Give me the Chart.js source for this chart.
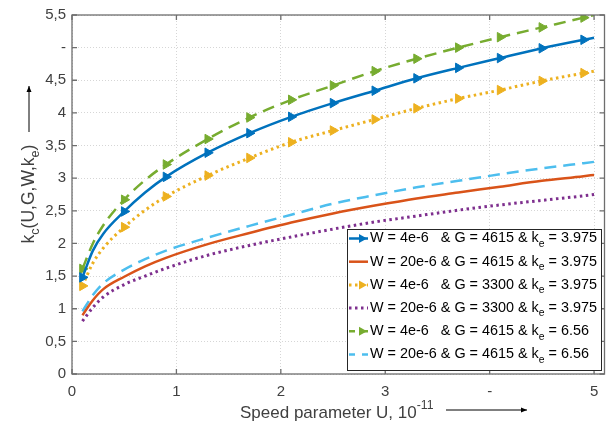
<!DOCTYPE html>
<html>
<head>
<meta charset="utf-8">
<script src="https://cdn.jsdelivr.net/npm/chart.js@4/dist/chart.umd.min.js"></script>
<style>
  body { margin: 0; background: #fff; }
  canvas { display: block; }
</style>
</head>
<body>
<canvas id="kcchart" width="611" height="430"></canvas>
<script>
// speed parameter U (x 10^-11)
const uVals = [0.1, 0.2, 0.3, 0.5, 0.7, 0.9, 1.3, 1.7, 2.1, 2.5, 2.9, 3.3, 3.7, 4.1, 4.5, 4.9, 5.0];
const markerU = [0.1, 0.5, 0.9, 1.3, 1.7, 2.1, 2.5, 2.9, 3.3, 3.7, 4.1, 4.5, 4.9];

const kcBlue   = [1.48, 1.89, 2.15, 2.49, 2.78, 3.02, 3.39, 3.69, 3.94, 4.15, 4.34, 4.53, 4.69, 4.84, 4.99, 5.12, 5.15];
const kcRed    = [0.90, 1.13, 1.30, 1.49, 1.65, 1.78, 1.99, 2.16, 2.32, 2.46, 2.58, 2.69, 2.78, 2.87, 2.96, 3.03, 3.05];
const kcOrange = [1.35, 1.70, 1.93, 2.25, 2.51, 2.72, 3.04, 3.31, 3.55, 3.73, 3.90, 4.07, 4.22, 4.35, 4.49, 4.61, 4.64];
const kcPurple = [0.81, 1.02, 1.18, 1.37, 1.50, 1.62, 1.82, 1.97, 2.10, 2.22, 2.33, 2.42, 2.51, 2.59, 2.66, 2.73, 2.75];
const kcGreen  = [1.61, 2.00, 2.28, 2.67, 2.97, 3.21, 3.60, 3.93, 4.20, 4.42, 4.64, 4.83, 5.00, 5.16, 5.31, 5.46, 5.50];
const kcCyan   = [0.96, 1.21, 1.39, 1.60, 1.76, 1.89, 2.09, 2.27, 2.44, 2.61, 2.74, 2.86, 2.96, 3.06, 3.15, 3.23, 3.25];

const legendLabels = [
    "W = 4e-6|& G = 4615 & k_e = 3.975",
    "W = 20e-6|& G = 4615 & k_e = 3.975",
    "W = 4e-6|& G = 3300 & k_e = 3.975",
    "W = 20e-6|& G = 3300 & k_e = 3.975",
    "W = 4e-6|& G = 4615 & k_e = 6.56",
    "W = 20e-6|& G = 4615 & k_e = 6.56"
];

const xTickVals = [0, 1, 2, 3, 4, 5];
const xTickText = ["0", "1", "2", "3", "-", "5"];
const yTickVals = [0, 0.5, 1, 1.5, 2, 2.5, 3, 3.5, 4, 4.5, 5, 5.5];
const yTickText = ["0", "0,5", "1", "1,5", "2", "2,5", "3", "3,5", "4", "4,5", "-", "5,5"];

const FONT = "'Liberation Sans', Arial, Helvetica, sans-serif";
const AXIS_COLOR = "#6e6e6e";
const TEXT_COLOR = "#404040";

function pts(vals) {
    return uVals.map((u, i) => ({ x: u, y: vals[i] }));
}

function markerRadius(ctx) {
    const u = uVals[ctx.dataIndex];
    return markerU.includes(u) ? 5.5 : 0;
}

function series(label, vals, color, dash, width, marker) {
    return {
        label: label,
        data: pts(vals),
        borderColor: color,
        backgroundColor: color,
        borderWidth: width,
        borderDash: dash,
        cubicInterpolationMode: 'monotone',
        pointStyle: 'triangle',
        rotation: 90,
        pointRadius: marker ? markerRadius : 0,
        pointBorderWidth: 1,
        fill: false
    };
}

const datasets = [
    series(legendLabels[0], kcBlue, '#0072BD', [], 2.5, true),
    series(legendLabels[1], kcRed, '#D95319', [], 2.5, false),
    series(legendLabels[2], kcOrange, '#EDB120', [2.5, 3.5], 3, true),
    series(legendLabels[3], kcPurple, '#7E2F8E', [2.5, 3.5], 3, false),
    series(legendLabels[4], kcGreen, '#77AC30', [12, 7], 2.5, true),
    series(legendLabels[5], kcCyan, '#4DBEEE', [12, 7], 2.5, false)
];

// text pieces with sub/superscripts: mode 0 normal, 1 sub, 2 sup
function drawParts(ctx, parts, x, y, size) {
    let cx = x;
    parts.forEach(p => {
        const s = p[1] ? size * 0.72 : size;
        ctx.font = s + "px " + FONT;
        let dy = 0;
        if (p[1] === 1) dy = size * 0.38;
        if (p[1] === 2) dy = -size * 0.42;
        ctx.fillText(p[0], cx, y + dy);
        cx += ctx.measureText(p[0]).width;
    });
    return cx;
}

function partsWidth(ctx, parts, size) {
    let w = 0;
    parts.forEach(p => {
        const s = p[1] ? size * 0.72 : size;
        ctx.font = s + "px " + FONT;
        w += ctx.measureText(p[0]).width;
    });
    return w;
}

function labelParts(txt) {
    const bits = txt.split("_e");
    return [[bits[0], 0], ["e", 1], [bits[1], 0]];
}

function arrow(ctx, x1, y1, x2, y2) {
    ctx.beginPath();
    ctx.moveTo(x1, y1);
    ctx.lineTo(x2, y2);
    ctx.stroke();
    const a = Math.atan2(y2 - y1, x2 - x1);
    ctx.beginPath();
    ctx.moveTo(x2, y2);
    ctx.lineTo(x2 - 6 * Math.cos(a) + 2.5 * Math.sin(a), y2 - 6 * Math.sin(a) - 2.5 * Math.cos(a));
    ctx.lineTo(x2 - 6 * Math.cos(a) - 2.5 * Math.sin(a), y2 - 6 * Math.sin(a) + 2.5 * Math.cos(a));
    ctx.closePath();
    ctx.fill();
}

const framePlugin = {
    id: 'frame',
    afterDatasetsDraw(chart) {
        const ctx = chart.ctx;
        const a = chart.chartArea;
        const xs = chart.scales.x;
        const ys = chart.scales.y;
        ctx.save();
        // box
        ctx.strokeStyle = AXIS_COLOR;
        ctx.lineWidth = 1.3;
        ctx.setLineDash([]);
        ctx.strokeRect(a.left, a.top, a.right - a.left, a.bottom - a.top);
        // inward ticks
        ctx.beginPath();
        xTickVals.forEach(v => {
            const px = xs.getPixelForValue(v);
            ctx.moveTo(px, a.bottom); ctx.lineTo(px, a.bottom - 5);
            ctx.moveTo(px, a.top); ctx.lineTo(px, a.top + 5);
        });
        yTickVals.forEach(v => {
            const py = ys.getPixelForValue(v);
            ctx.moveTo(a.left, py); ctx.lineTo(a.left + 5, py);
            ctx.moveTo(a.right, py); ctx.lineTo(a.right - 5, py);
        });
        ctx.stroke();

        // legend
        const lx = 347, ly = 229, lw = 254, lh = 141, rowH = 23.2, fs = 14.4;
        ctx.fillStyle = '#fff';
        ctx.fillRect(lx, ly, lw, lh);
        ctx.strokeStyle = '#262626';
        ctx.lineWidth = 1;
        ctx.strokeRect(lx + 0.5, ly + 0.5, lw, lh);
        ctx.font = fs + "px " + FONT;
        const ampX = lx + 23 + ctx.measureText("W = 20e-6 ").width;
        chart.data.datasets.forEach((ds, i) => {
            const cy = ly + 9.5 + rowH * i;
            ctx.save();
            ctx.strokeStyle = ds.borderColor;
            ctx.lineWidth = ds.borderWidth;
            ctx.setLineDash(ds.borderDash);
            ctx.lineDashOffset = ds.borderDash.length ? 6 : 0;
            ctx.beginPath();
            ctx.moveTo(lx + 2, cy);
            ctx.lineTo(lx + 21, cy);
            ctx.stroke();
            if (ds.pointRadius !== 0) {
                ctx.setLineDash([]);
                ctx.fillStyle = ds.borderColor;
                ctx.beginPath();
                ctx.moveTo(lx + 20, cy);
                ctx.lineTo(lx + 12, cy - 4.5);
                ctx.lineTo(lx + 12, cy + 4.5);
                ctx.closePath();
                ctx.fill();
            }
            ctx.restore();
            const halves = ds.label.split("|");
            ctx.fillStyle = '#000';
            ctx.textBaseline = 'middle';
            ctx.textAlign = 'left';
            drawParts(ctx, [[halves[0], 0]], lx + 23, cy, fs);
            drawParts(ctx, labelParts(halves[1]), ampX, cy, fs);
        });
        ctx.restore();
    },
    afterDraw(chart) {
        const ctx = chart.ctx;
        ctx.save();
        ctx.fillStyle = TEXT_COLOR;
        ctx.strokeStyle = '#000';
        ctx.textBaseline = 'middle';
        ctx.textAlign = 'left';
        // x title
        const xParts = [["Speed parameter U, 10", 0], ["-11", 2]];
        drawParts(ctx, xParts, 240, 413, 17);
        ctx.fillStyle = '#000';
        ctx.lineWidth = 1;
        arrow(ctx, 446, 410, 527, 410);
        // y title
        ctx.fillStyle = TEXT_COLOR;
        const yParts = [["k", 0], ["c", 1], ["(U,G,W,k", 0], ["e", 1], [")", 0]];
        ctx.translate(29, 0);
        ctx.rotate(-Math.PI / 2);
        const w = partsWidth(ctx, yParts, 17.5);
        drawParts(ctx, yParts, -194 - w / 2, 0, 17.5);
        ctx.restore();
        ctx.save();
        ctx.fillStyle = '#000';
        ctx.strokeStyle = '#000';
        ctx.lineWidth = 1;
        arrow(ctx, 29, 132, 29, 86);
        ctx.restore();
    }
};

new Chart(document.getElementById('kcchart'), {
    type: 'line',
    data: { datasets: datasets },
    options: {
        responsive: false,
        animation: false,
        devicePixelRatio: 1,
        layout: { padding: { top: 7, right: 4, left: 0, bottom: 0 } },
        plugins: {
            legend: { display: false },
            tooltip: { enabled: false }
        },
        scales: {
            x: {
                type: 'linear',
                min: 0,
                max: 5.1,
                afterFit: scale => { scale.height = 56; },
                afterBuildTicks: scale => { scale.ticks = xTickVals.map(v => ({ value: v })); },
                grid: { color: '#d6d6d6', drawTicks: false },
                border: { display: false, dash: [1, 2] },
                ticks: {
                    padding: 9,
                    color: TEXT_COLOR,
                    font: { family: FONT, size: 15 },
                    maxRotation: 0,
                    callback: (v) => xTickText[xTickVals.indexOf(v)]
                }
            },
            y: {
                type: 'linear',
                min: 0,
                max: 5.5,
                afterFit: scale => { scale.width = 72; },
                afterBuildTicks: scale => { scale.ticks = yTickVals.map(v => ({ value: v })); },
                grid: { color: '#d6d6d6', drawTicks: false },
                border: { display: false, dash: [1, 2] },
                ticks: {
                    padding: 6,
                    color: TEXT_COLOR,
                    font: { family: FONT, size: 15 },
                    callback: (v) => yTickText[yTickVals.indexOf(v)]
                }
            }
        }
    },
    plugins: [framePlugin]
});
</script>
</body>
</html>
